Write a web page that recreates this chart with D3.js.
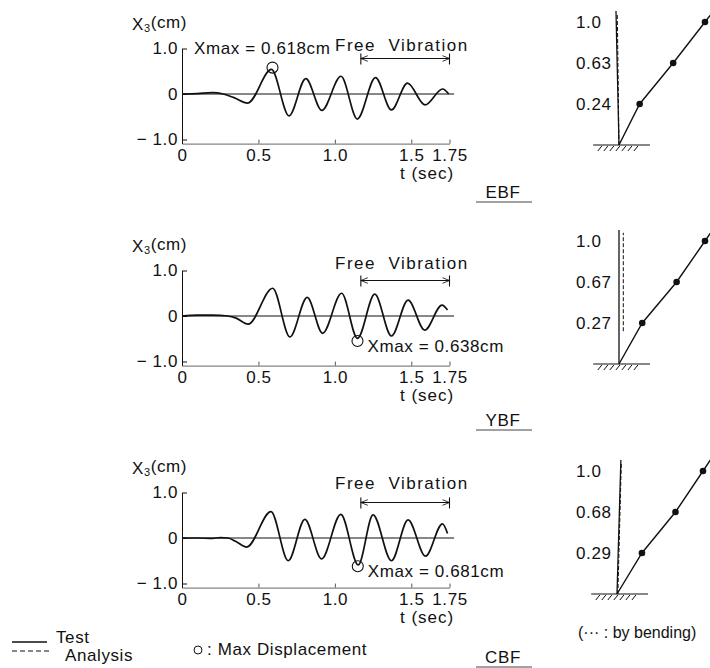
<!DOCTYPE html>
<html>
<head>
<meta charset="utf-8">
<script src="https://cdn.jsdelivr.net/npm/d3@7"></script>
<style>
body{margin:0;background:#fff;}
text{font-family:"Liberation Sans",Arial,sans-serif;font-size:17px;fill:#111;letter-spacing:0.6px;white-space:pre;}
.tick text{font-family:"Liberation Sans",Arial,sans-serif;font-size:17px;fill:#111;}
</style>
</head>
<body>
<svg id="chart" width="710" height="668"></svg>
<script>
var w=710, h=668;

// tick values and labels
var xTicks=[0,0.5,1.0,1.5,1.75];
var xTickLabels=["0","0.5","1.0","1.5","1.75"];
var yTicks=[1,0,-1];
var yTickLabels=["1.0","0","\u2212 1.0"];
var frames=["EBF","YBF","CBF"];

// X3 time histories, [t (sec), X3 (cm)]
var ebfTest=[[0,0],[0.1,0.01],[0.2,0.03],[0.27,0.0],[0.34,-0.08],[0.43,-0.20],[0.585,0.54],[0.70,-0.48],[0.81,0.34],[0.915,-0.36],[1.04,0.39],[1.147,-0.55],[1.266,0.36],[1.37,-0.35],[1.475,0.24],[1.59,-0.24],[1.705,0.11],[1.745,0.0]];
var ybfTest=[[0,0],[0.1,0.02],[0.2,0.02],[0.3,0.0],[0.35,-0.04],[0.433,-0.18],[0.593,0.61],[0.706,-0.46],[0.819,0.41],[0.92,-0.38],[1.044,0.50],[1.148,-0.49],[1.261,0.48],[1.37,-0.44],[1.479,0.35],[1.588,-0.31],[1.701,0.24],[1.737,0.13]];
var cbfTest=[[0,0],[0.1,0.0],[0.2,-0.01],[0.25,0.01],[0.3,0.0],[0.35,-0.07],[0.423,-0.20],[0.582,0.58],[0.695,-0.50],[0.804,0.41],[0.913,-0.46],[1.039,0.52],[1.153,-0.59],[1.25,0.51],[1.37,-0.50],[1.479,0.40],[1.593,-0.40],[1.704,0.31],[1.737,0.10]];
var testSeries=[ebfTest,ybfTest,cbfTest];

var maxPoints=[[0.592,0.58],[1.148,-0.55],[1.15,-0.62]];
var xmaxLabels=["Xmax = 0.618cm","Xmax = 0.638cm","Xmax = 0.681cm"];
var freeRange=[1.17,1.75];

// mode shapes (floor 0..3)
var modeFloors=[0,1,2,3];
var ebfMode=[0,0.24,0.63,1.0];
var ybfMode=[0,0.27,0.67,1.0];
var cbfMode=[0,0.29,0.68,1.0];
var modes=[ebfMode,ybfMode,cbfMode];
var modeLabels=[["0.24","0.63","1.0"],["0.27","0.67","1.0"],["0.29","0.68","1.0"]];

// layout
var zeroY=[94,316,538];
var unit=45.5;
var xmaxPos=[[194,48],null,null];
var freeTextY=[45,263,483];
var frameLabelY=[192,420,657];
var modeBaseY=[145,364,594];
var modeBaseX=[619,619,617];
var colTop=[-0.035,0,0.045];
// dashed line: [from floor, x at bottom, x at top]
var dashLine=[[0,0,-0.02],[0.8,0.05,0.05],[0,0.01,0.05]];

var svg=d3.select("#chart");
var ink="#111";

svg.append("defs").append("marker")
  .attr("id","arr").attr("viewBox","0 0 10 10").attr("refX",10).attr("refY",5)
  .attr("markerWidth",9).attr("markerHeight",7).attr("orient","auto-start-reverse")
  .attr("markerUnits","userSpaceOnUse")
  .append("path").attr("d","M0,1 L10,5 L0,9").attr("fill","none").attr("stroke",ink).attr("stroke-width",1.2);

var xScale=d3.scaleLinear().domain([0,1.75]).range([182,449.5]);

function addText(g,x,y,str,anchor){
  return g.append("text").attr("x",x).attr("y",y).attr("dy","0.36em")
    .attr("text-anchor",anchor||"start").text(str);
}

function drawFrame(i){
  var g=svg.append("g");
  var z=zeroY[i];
  var yScale=d3.scaleLinear().domain([-1.09,1]).range([z+1.09*unit,z-unit]);

  // x axis
  var xa=g.append("g").attr("transform","translate(0,"+yScale(-1.09)+")")
    .call(d3.axisBottom(xScale).tickValues(xTicks).tickSizeInner(-4).tickSizeOuter(0).tickPadding(5)
      .tickFormat(function(d,k){return xTickLabels[k];}));
  xa.select(".domain").attr("stroke","#666");
  xa.selectAll(".tick line").attr("stroke","#555");
  xa.selectAll(".tick text").attr("font-size",17);

  // y axis
  var ya=g.append("g").attr("transform","translate("+xScale(0)+",0)")
    .call(d3.axisLeft(yScale).tickValues(yTicks).tickSizeInner(-5).tickSizeOuter(0).tickPadding(4)
      .tickFormat(function(d,k){return yTickLabels[k];}));
  ya.select(".domain").attr("stroke",ink);
  ya.selectAll(".tick line").attr("stroke",ink);
  ya.selectAll(".tick text").attr("font-size",17);

  // zero line
  g.append("line").attr("x1",xScale(0)).attr("x2",xScale(1.78))
    .attr("y1",yScale(0)).attr("y2",yScale(0)).attr("stroke",ink).attr("stroke-width",1);

  // test curve
  var line=d3.line().x(function(d){return xScale(d[0]);}).y(function(d){return yScale(d[1]);})
    .curve(d3.curveMonotoneX);
  g.append("path").datum(testSeries[i]).attr("d",line)
    .attr("fill","none").attr("stroke",ink).attr("stroke-width",1.7);

  // max marker
  var mp=maxPoints[i];
  g.append("circle").attr("cx",xScale(mp[0])).attr("cy",yScale(mp[1])).attr("r",5.5)
    .attr("fill","none").attr("stroke",ink).attr("stroke-width",1.1);
  var lp=xmaxPos[i]||[xScale(mp[0])+10,yScale(mp[1])+5];
  addText(g,lp[0],lp[1],xmaxLabels[i]);

  // axis title
  var t=addText(g,132,yScale(1)-25,"X","start");
  t.append("tspan").attr("font-size",11).attr("dy","0.25em").text("3");
  t.append("tspan").attr("dy","-0.25em").text("(cm)");

  addText(g,400,yScale(-1.09)+29,"t (sec)").style("letter-spacing","1px");

  // free vibration arrow
  addText(g,335,freeTextY[i],"Free  Vibration").style("letter-spacing","1.5px");
  var ay=yScale(1)+10;
  g.append("line").attr("x1",xScale(freeRange[0])).attr("x2",xScale(freeRange[1]))
    .attr("y1",ay).attr("y2",ay).attr("stroke",ink).attr("stroke-width",1.1)
    .attr("marker-start","url(#arr)").attr("marker-end","url(#arr)");
  freeRange.forEach(function(v){
    g.append("line").attr("x1",xScale(v)).attr("x2",xScale(v)).attr("y1",ay-5).attr("y2",ay+6)
      .attr("stroke",ink).attr("stroke-width",1.1);
  });

  // frame name
  addText(g,503,frameLabelY[i],frames[i],"middle");
  if(frameLabelY[i]+10<h)
    g.append("line").attr("x1",476).attr("x2",532).attr("y1",frameLabelY[i]+10).attr("y2",frameLabelY[i]+10)
      .attr("stroke","#444").attr("stroke-width",1);
}

function drawMode(i){
  var g=svg.append("g");
  var my=d3.scaleLinear().domain([0,3]).range([modeBaseY[i],modeBaseY[i]-123]);
  var mx=d3.scaleLinear().domain([0,1]).range([modeBaseX[i],modeBaseX[i]+86]);
  var m=modes[i];

  // ground and hatch
  g.append("line").attr("x1",mx(-0.3)).attr("x2",mx(0.36)).attr("y1",my(0)).attr("y2",my(0))
    .attr("stroke",ink).attr("stroke-width",1.2);
  d3.range(-0.2,0.27,0.07).forEach(function(v){
    g.append("line").attr("x1",mx(v)).attr("x2",mx(v)-4).attr("y1",my(0)+1).attr("y2",my(0)+6)
      .attr("stroke",ink).attr("stroke-width",1);
  });

  // undeformed column and bending line
  g.append("line").attr("x1",mx(0)).attr("y1",my(0)).attr("x2",mx(colTop[i])).attr("y2",my(3.27))
    .attr("stroke",ink).attr("stroke-width",1.3);
  var dl=dashLine[i];
  g.append("line").attr("x1",mx(dl[1])).attr("y1",my(dl[0])).attr("x2",mx(dl[2])).attr("y2",my(3.2))
    .attr("stroke",ink).attr("stroke-width",1).attr("stroke-dasharray","4,2");

  // mode shape
  var pts=modeFloors.map(function(f,k){return [m[k],f];});
  var a=pts[pts.length-2], b=pts[pts.length-1];
  pts.push([b[0]+(b[0]-a[0])*0.3,b[1]+(b[1]-a[1])*0.3]);
  var line=d3.line().x(function(d){return mx(d[0]);}).y(function(d){return my(d[1]);});
  g.append("path").datum(pts).attr("d",line).attr("fill","none").attr("stroke",ink).attr("stroke-width",1.4);
  for(var k=1;k<modeFloors.length;k++){
    g.append("circle").attr("cx",mx(m[k])).attr("cy",my(modeFloors[k])).attr("r",3.3).attr("fill",ink);
    addText(g,576,my(modeFloors[k]),modeLabels[i][k-1]);
  }
}

for(var i=0;i<3;i++){drawFrame(i);drawMode(i);}

// legend
var lg=svg.append("g");
lg.append("line").attr("x1",12).attr("x2",47).attr("y1",642).attr("y2",642).attr("stroke",ink).attr("stroke-width",1.4);
addText(lg,56,637,"Test");
lg.append("line").attr("x1",12).attr("x2",50).attr("y1",651).attr("y2",651).attr("stroke",ink)
  .attr("stroke-width",1.2).attr("stroke-dasharray","5,3");
addText(lg,65,655,"Analysis");
lg.append("circle").attr("cx",198).attr("cy",650).attr("r",4).attr("fill","none").attr("stroke",ink);
addText(lg,207,649,": Max Displacement");
addText(lg,578,632,"(\u00b7\u00b7\u00b7 : by bending)").style("font-size","16px").style("letter-spacing","0px");
</script>
</body>
</html>
